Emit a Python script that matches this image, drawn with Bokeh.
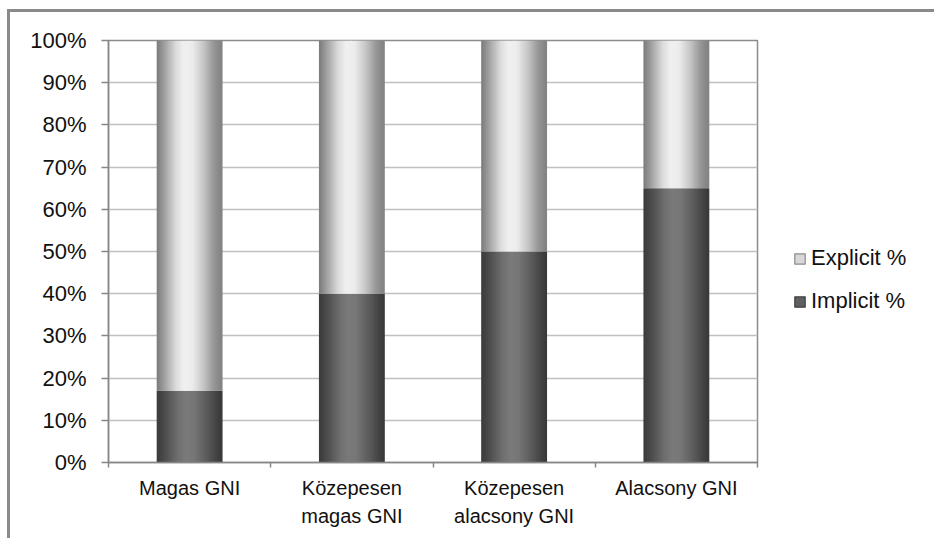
from bokeh.plotting import figure
from bokeh.layouts import row
from bokeh.models import (ColumnDataSource, FactorRange, LinearAxis,
                          FixedTicker, NumeralTickFormatter, Legend, LegendItem, Range1d)
from bokeh.embed import file_html
from bokeh.resources import INLINE

# ---- data ----
categories = ["Magas GNI", "Közepesen magas GNI", "Közepesen alacsony GNI", "Alacsony GNI"]
tick_labels_line1 = ["Magas GNI", "Közepesen", "Közepesen", "Alacsony GNI"]
tick_labels_line2 = ["", "magas GNI", "alacsony GNI", ""]
implicit_pct = [0.17, 0.40, 0.50, 0.65]
explicit_pct = [0.83, 0.60, 0.50, 0.35]
series_names = ["Explicit %", "Implicit %"]
y_ticks = [0.0, 0.1, 0.2, 0.3, 0.4, 0.5, 0.6, 0.7, 0.8, 0.9, 1.0]

# ---- styling helpers ----
BAR_W = 0.40
N_STRIPS = 40
light_stops = [(0.0, 0x7a), (0.10, 0x9a), (0.30, 0xdc), (0.42, 0xf0), (0.55, 0xec),
               (0.72, 0xc6), (0.88, 0x96), (1.0, 0x82)]
dark_stops = [(0.0, 0x3a), (0.12, 0x4c), (0.32, 0x6e), (0.45, 0x7a), (0.58, 0x76),
              (0.78, 0x5a), (0.92, 0x44), (1.0, 0x38)]


def shade(stops, t):
    for (t0, v0), (t1, v1) in zip(stops[:-1], stops[1:]):
        if t0 <= t <= t1:
            v = v0 + (v1 - v0) * (t - t0) / (t1 - t0)
            g = int(round(v))
            return "#%02x%02x%02x" % (g, g, g)
    g = stops[-1][1]
    return "#%02x%02x%02x" % (g, g, g)


imp = dict(x=[], bottom=[], top=[], color=[])
exp = dict(x=[], bottom=[], top=[], color=[])
strip = BAR_W / N_STRIPS
for cat, vi, ve in zip(categories, implicit_pct, explicit_pct):
    for i in range(N_STRIPS):
        t = (i + 0.5) / N_STRIPS
        off = -BAR_W / 2 + t * BAR_W
        imp["x"].append((cat, off)); imp["bottom"].append(0.0); imp["top"].append(vi)
        imp["color"].append(shade(dark_stops, t))
        exp["x"].append((cat, off)); exp["bottom"].append(vi); exp["top"].append(vi + ve)
        exp["color"].append(shade(light_stops, t))
imp_src = ColumnDataSource(imp)
exp_src = ColumnDataSource(exp)
sw = strip * 1.6

H = 526
p = figure(width=755, height=H, x_range=FactorRange(factors=categories),
           y_range=Range1d(0, 1), x_axis_location=None,
           output_backend="svg", toolbar_location=None,
           min_border_left=98, min_border_top=28, min_border_right=8, min_border_bottom=76)
p.outline_line_color = "#8c8c8c"
p.outline_line_width = 1.5
p.background_fill_color = "white"
p.border_fill_color = "white"

p.vbar(x="x", bottom="bottom", top="top", width=sw, fill_color="color",
       line_color=None, source=imp_src)
p.vbar(x="x", bottom="bottom", top="top", width=sw, fill_color="color",
       line_color=None, source=exp_src)

# y axis
ya = p.yaxis[0]
ya.ticker = FixedTicker(ticks=y_ticks)
ya.formatter = NumeralTickFormatter(format="0%")
ya.major_label_text_font = "Liberation Sans"
ya.major_label_text_font_size = "22px"
ya.major_label_text_color = "#111111"
ya.axis_line_color = "#868686"
ya.axis_line_width = 1.5
ya.major_tick_line_color = "#868686"
ya.major_tick_line_width = 1.5
ya.major_tick_out = 7
ya.major_tick_in = 0
ya.minor_tick_line_color = None
ya.major_label_standoff = 15

p.ygrid.grid_line_color = "#c0c0c0"
p.ygrid.grid_line_width = 1.5
p.ygrid.ticker = FixedTicker(ticks=y_ticks)

# x axis: labels at category centres, tick marks at boundaries (minor ticks)
n = len(categories)
centres = [i + 0.5 for i in range(n)]
bounds = [float(i) for i in range(n + 1)]

xa1 = LinearAxis(ticker=FixedTicker(ticks=centres, minor_ticks=bounds))
xa1.major_label_overrides = {c: l for c, l in zip(centres, tick_labels_line1)}
xa1.axis_line_color = "#868686"
xa1.axis_line_width = 1.5
xa1.major_tick_line_color = None
xa1.major_tick_out = 0
xa1.major_tick_in = 0
xa1.minor_tick_line_color = "#868686"
xa1.minor_tick_line_width = 1.5
xa1.minor_tick_out = 5
xa1.minor_tick_in = 0
xa1.major_label_text_font = "Liberation Sans"
xa1.major_label_text_font_size = "20px"
xa1.major_label_text_color = "#111111"
xa1.major_label_standoff = 9
p.add_layout(xa1, "below")

line2_pos = [c for c, l in zip(centres, tick_labels_line2) if l]
line2_txt = [l for l in tick_labels_line2 if l]
xa2 = LinearAxis(ticker=FixedTicker(ticks=line2_pos, minor_ticks=[]))
xa2.major_label_overrides = {c: l for c, l in zip(line2_pos, line2_txt)}
xa2.axis_line_color = None
xa2.major_tick_line_color = None
xa2.minor_tick_line_color = None
xa2.major_tick_out = 0
xa2.major_tick_in = 0
xa2.major_label_text_font = "Liberation Sans"
xa2.major_label_text_font_size = "20px"
xa2.major_label_text_color = "#111111"
xa2.major_label_standoff = 3
p.add_layout(xa2, "below")

# ---- legend panel (own figure; proxy renderers fall outside its ranges) ----
L = figure(width=169, height=H, x_range=Range1d(0, 1),
           y_range=Range1d(50, 60), x_axis_location=None, y_axis_location=None,
           output_backend="svg", toolbar_location=None,
           min_border_left=0, min_border_right=0, min_border_top=0, min_border_bottom=0)
L.outline_line_color = None
L.xgrid.visible = False
L.ygrid.visible = False
L.background_fill_color = "white"
L.border_fill_color = "white"
l_imp = L.vbar(x="x", bottom="bottom", top="bottom", width=sw, fill_color="color",
               line_color="#404040", line_width=1.2, source=imp_src)
l_exp = L.vbar(x="x", bottom="bottom", top="bottom", width=sw, fill_color="color",
               line_color="#8a8a8a", line_width=1.2, source=exp_src)
legend = Legend(items=[LegendItem(label=series_names[0], renderers=[l_exp], index=11),
                       LegendItem(label=series_names[1], renderers=[l_imp], index=9)],
                location=(28, 148), orientation="vertical",
                glyph_width=13, glyph_height=13, label_standoff=5, spacing=17,
                padding=5, margin=0, border_line_color=None, background_fill_alpha=0,
                label_text_font="Liberation Sans", label_text_font_size="22px",
                label_text_color="#111111")
L.add_layout(legend, "center")

layout = row(p, L, styles={"margin-left": "7px", "margin-top": "9px",
                           "border-left": "3px solid #8a8a8a",
                           "border-top": "3px solid #8a8a8a"})

open("out.html", "w").write(file_html(layout, INLINE))
